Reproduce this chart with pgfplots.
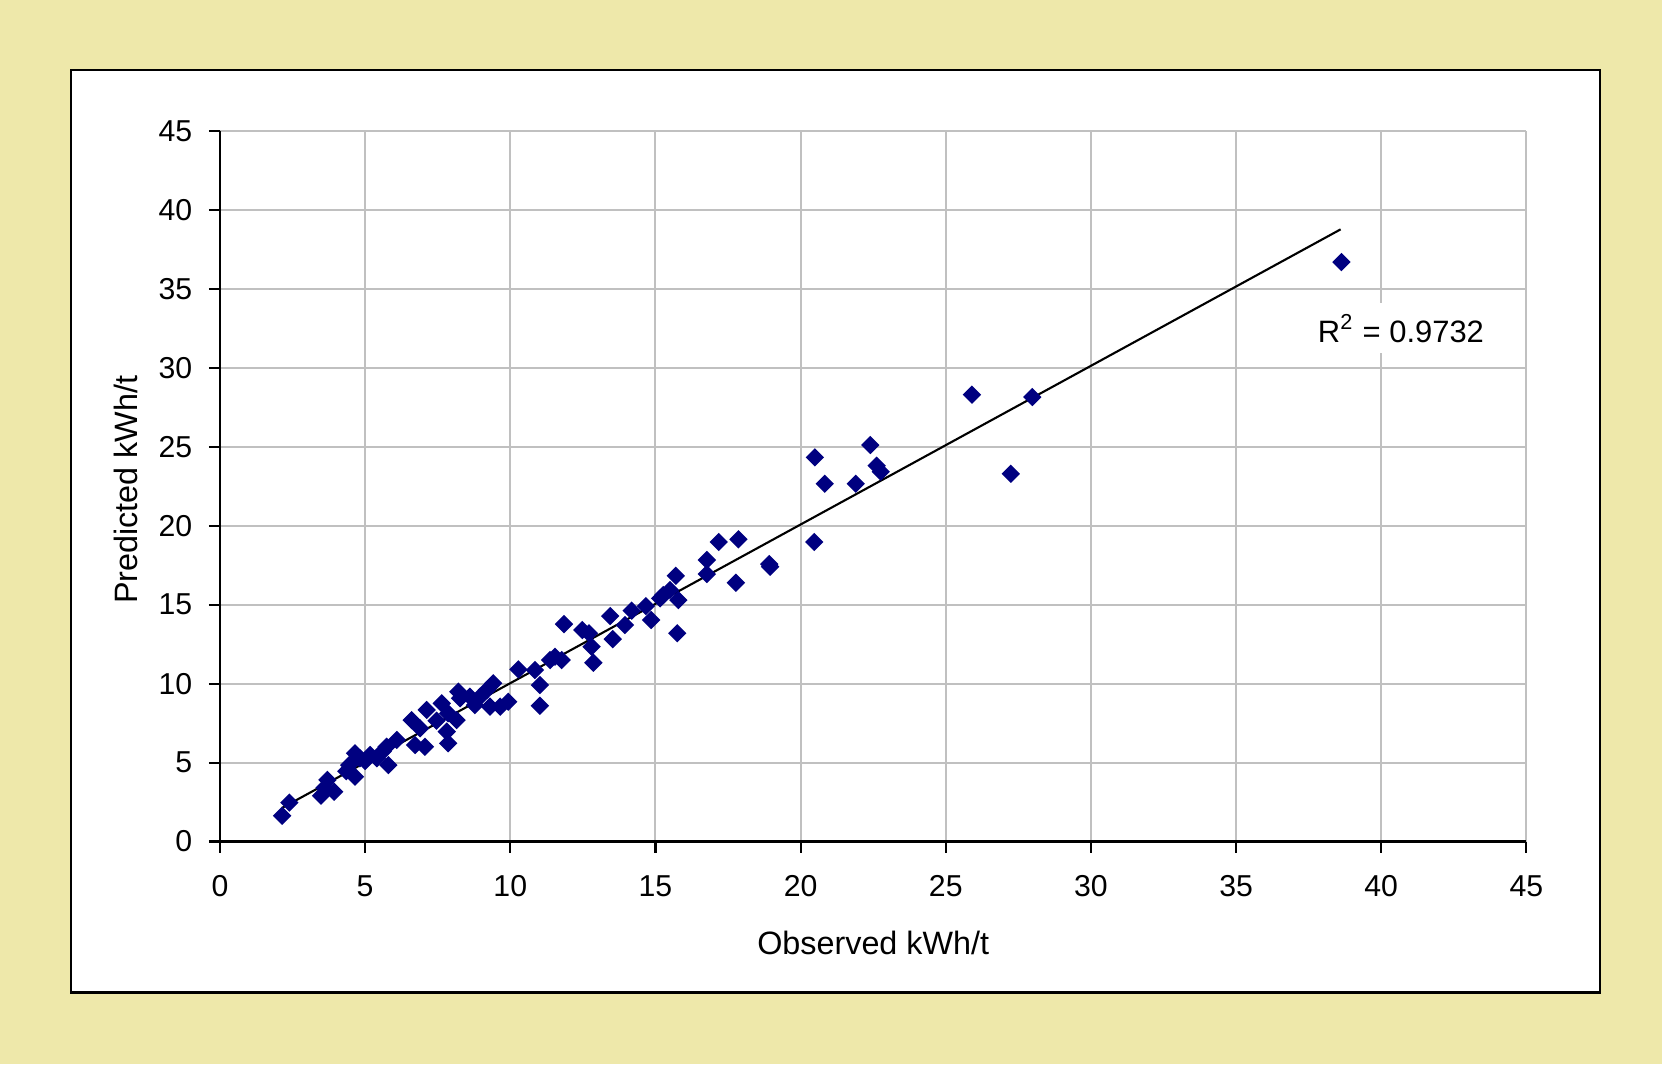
\documentclass[border=0pt]{standalone}
\usepackage{fontspec}
\setmainfont{Liberation Sans}
\usepackage{pgfplots}
\pgfplotsset{compat=1.18}
\definecolor{bgyellow}{RGB}{238,232,170}
\definecolor{navymark}{RGB}{0,0,128}
\definecolor{gridgray}{RGB}{192,192,192}
\begin{document}
\begin{tikzpicture}
\fill[bgyellow] (-2.20,-2.225) rectangle (14.42,8.415);
\filldraw[fill=white,draw=black,line width=0.6pt] (-1.49,-1.51) rectangle (13.80,7.715);
\begin{axis}[
  at={(0,0)}, anchor=south west, scale only axis,
  width=13.064cm, height=7.105cm,
  xmin=0, xmax=45, ymin=0, ymax=45,
  xtick={0,5,...,45}, ytick={0,5,...,45},
  grid=major, major grid style={gridgray, line width=0.55pt},
  axis lines*=left, axis line style={black, line width=0.6pt},
  tick align=outside, major tick length=0.11cm,
  tick style={black, line width=0.6pt},
  /pgf/number format/assume math mode=true,
  ticklabel style={font=\fontsize{8.6}{10}\selectfont, inner sep=0pt},
  xticklabel style={anchor=north, yshift=-0.22cm},
  yticklabel style={anchor=east, xshift=-0.16cm},
  xlabel={Observed kWh/t}, ylabel={Predicted kWh/t},
  label style={font=\fontsize{9.2}{11}\selectfont},
  xlabel style={at={(axis description cs:0.5,0)}, anchor=center, yshift=-1.015cm},
  ylabel style={at={(axis description cs:0,0.495)}, anchor=center, yshift=0.94cm},
  clip=false,
]
\addplot[only marks, mark=square*, mark size=1.65pt,
  mark options={fill=navymark, draw=navymark, rotate=45}] coordinates {
  (2.14,1.63) (2.39,2.46) (3.48,2.90) (3.70,3.90) (3.93,3.15) (3.60,3.40)
  (4.35,4.45) (4.45,4.84) (4.65,5.59) (4.65,4.10) (4.82,5.27) (5.00,5.10)
  (5.17,5.48) (5.40,5.27) (5.60,5.70) (5.80,4.84) (5.74,6.00) (6.09,6.43)
  (6.60,7.69) (6.89,7.17) (6.72,6.11) (7.06,6.00) (7.12,8.33) (7.64,8.75)
  (7.46,7.65) (7.86,8.12) (7.86,6.22) (7.81,6.96) (8.15,7.69) (8.21,9.49)
  (8.61,9.17) (8.78,8.64) (9.41,10.02) (9.19,9.59) (9.93,8.85) (9.65,8.54)
  (9.30,8.54) (8.96,9.17) (8.27,9.07) (10.28,10.90) (10.85,10.86) (11.02,9.91)
  (11.02,8.60) (11.37,11.49) (11.54,11.70) (11.77,11.49) (11.85,13.77)
  (12.48,13.39) (12.71,13.19) (12.80,12.34) (12.86,11.32) (13.44,14.28)
  (13.53,12.82) (13.95,13.71) (14.18,14.62) (14.67,14.91) (14.85,14.03)
  (15.16,15.40) (15.27,15.61) (15.50,15.93) (15.79,15.29) (15.70,16.83)
  (15.75,13.19) (16.77,17.83) (16.77,16.94) (17.18,18.97) (17.86,19.14)
  (17.77,16.39) (18.92,17.57) (18.95,17.40) (20.47,18.97) (20.49,24.33)
  (20.83,22.66) (21.90,22.66) (22.40,25.11) (22.62,23.80) (22.76,23.42)
  (25.90,28.30) (27.24,23.29) (27.98,28.15) (38.63,36.70)
};
\addplot[black, line width=0.6pt, no marks] coordinates {(2.14,2.13) (38.60,38.77)};
\node[fill=white, inner sep=3pt, font=\fontsize{8.8}{11}\selectfont] at (axis cs:40.68,32.5) {R\textsuperscript{2} = 0.9732};
\end{axis}
\end{tikzpicture}
\end{document}
